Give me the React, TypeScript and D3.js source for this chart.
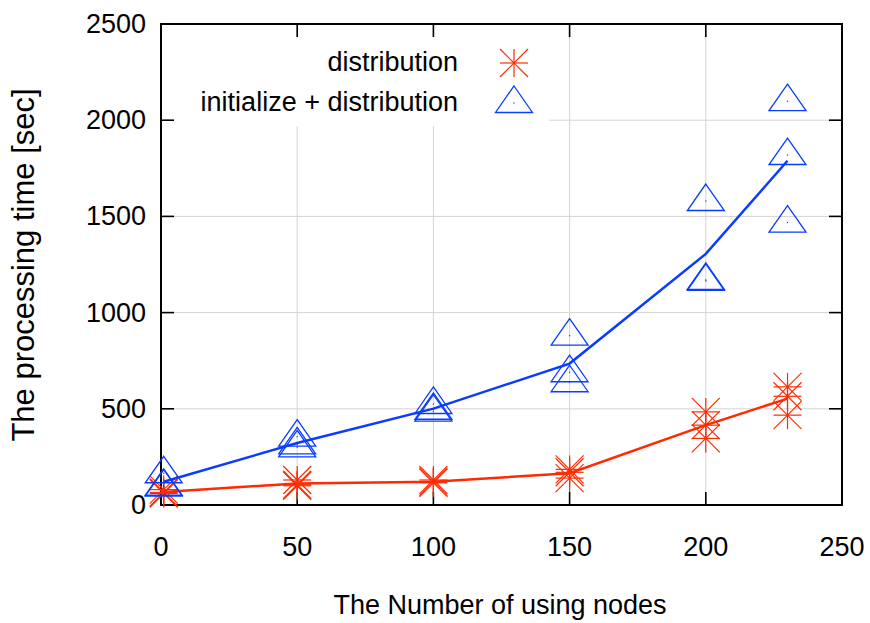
import * as d3 from "d3";

// x positions (number of nodes)
const nodes = [1, 50, 100, 150, 200, 230];

// "distribution" runs (red asterisks) and line through the averages
const distRuns = [
  [80, 65, 60],
  [130, 105, 100],
  [130, 120, 115],
  [185, 170, 140],
  [484, 415, 346],
  [614, 565, 467],
];
const distAvg = [68, 112, 121, 165, 415, 553];

// "initialize + distribution" runs (blue triangles) and averages
const initRuns = [
  [165, 100, 95],
  [355, 315, 300],
  [525, 495, 485],
  [880, 690, 638],
  [1580, 1170, 1165],
  [2099, 1819, 1468],
];
const initAvg = [121, 322, 501, 735, 1305, 1789];

const xTicks = [0, 50, 100, 150, 200, 250];
const yTicks = [0, 500, 1000, 1500, 2000, 2500];

const W = 870;
const H = 623;
const margin = { top: 24, right: 28, bottom: 118, left: 161 };
const RED = "#ff2a00";
const BLUE = "#0a3cff";
const FONT = "'Liberation Sans', Arial, Helvetica, sans-serif";

function Asterisk({ x, y, r = 14 }: { x: number; y: number; r?: number }) {
  return (
    <g stroke={RED} strokeWidth={1.2} fill="none">
      <line x1={x - r} y1={y} x2={x + r} y2={y} />
      <line x1={x} y1={y - r} x2={x} y2={y + r} />
      <line x1={x - r} y1={y - r} x2={x + r} y2={y + r} />
      <line x1={x - r} y1={y + r} x2={x + r} y2={y - r} />
    </g>
  );
}

function Triangle({ x, y }: { x: number; y: number }) {
  const pts = [
    [x, y - 17],
    [x + 18.5, y + 9.5],
    [x - 18.5, y + 9.5],
  ];
  return (
    <g>
      <polygon
        points={pts.map((p) => p.join(",")).join(" ")}
        fill="none"
        stroke={BLUE}
        strokeWidth={1.3}
      />
      <rect x={x - 0.6} y={y - 0.6} width={1.2} height={1.2} fill={BLUE} />
    </g>
  );
}

export default function App() {
  const x = d3
    .scaleLinear()
    .domain([0, 250])
    .range([margin.left, W - margin.right]);
  const y = d3
    .scaleLinear()
    .domain([0, 2500])
    .range([H - margin.bottom, margin.top]);

  const [x0, x1] = x.range();
  const [y0, y1] = y.range();
  const tick = 13;

  const line = d3
    .line<number>()
    .x((_, i) => x(nodes[i]))
    .y((d) => y(d));

  return (
    <svg
      width={W}
      height={H}
      style={{ position: "absolute", left: 0, top: 0, background: "#fff" }}
      fontFamily={FONT}
    >
      <rect width={W} height={H} fill="#fff" />

      {/* grid */}
      <g stroke="#d4d4d4" strokeWidth={1}>
        {xTicks.slice(1, -1).map((t) => (
          <line key={"gx" + t} x1={x(t)} x2={x(t)} y1={y0} y2={y1} />
        ))}
        {yTicks.slice(1, -1).map((t) => (
          <line key={"gy" + t} x1={x0} x2={x1} y1={y(t)} y2={y(t)} />
        ))}
      </g>

      {/* legend background */}
      <rect x={x0 + 1} y={37} width={387} height={89} fill="#fff" />

      {/* frame and ticks */}
      <g stroke="#000" strokeWidth={1.6}>
        {xTicks.map((t) => (
          <g key={"tx" + t}>
            <line x1={x(t)} x2={x(t)} y1={y0} y2={y0 - tick} />
            <line x1={x(t)} x2={x(t)} y1={y1} y2={y1 + tick} />
          </g>
        ))}
        {yTicks.map((t) => (
          <g key={"ty" + t}>
            <line x1={x0} x2={x0 + tick} y1={y(t)} y2={y(t)} />
            <line x1={x1} x2={x1 - tick} y1={y(t)} y2={y(t)} />
          </g>
        ))}
        <rect
          x={x0}
          y={y1}
          width={x1 - x0}
          height={y0 - y1}
          fill="none"
          strokeWidth={2}
        />
      </g>

      {/* tick labels */}
      <g fontSize={27} fill="#000">
        {yTicks.map((t) => (
          <text
            key={"ly" + t}
            x={x0 - 15}
            y={y(t)}
            textAnchor="end"
            dominantBaseline="central"
          >
            {t}
          </text>
        ))}
        {xTicks.map((t) => (
          <text key={"lx" + t} x={x(t)} y={556} textAnchor="middle">
            {t}
          </text>
        ))}
      </g>

      {/* axis titles */}
      <text x={500} y={614} fontSize={27} textAnchor="middle">
        The Number of using nodes
      </text>
      <text
        transform={`translate(34,265) rotate(-90)`}
        fontSize={31}
        textAnchor="middle"
      >
        The processing time [sec]
      </text>

      {/* data */}
      <path d={line(distAvg) ?? ""} fill="none" stroke={RED} strokeWidth={2.5} />
      {distRuns.map((runs, i) =>
        runs.map((v, j) => (
          <Asterisk key={`d${i}-${j}`} x={x(nodes[i])} y={y(v)} />
        ))
      )}
      <path d={line(initAvg) ?? ""} fill="none" stroke={BLUE} strokeWidth={2.5} />
      {initRuns.map((runs, i) =>
        runs.map((v, j) => (
          <Triangle key={`i${i}-${j}`} x={x(nodes[i])} y={y(v)} />
        ))
      )}

      {/* legend */}
      <g fontSize={27}>
        <text x={458} y={62} textAnchor="end" dominantBaseline="central">
          distribution
        </text>
        <Asterisk x={514} y={63} />
        <text x={458} y={102} textAnchor="end" dominantBaseline="central">
          initialize + distribution
        </text>
        <Triangle x={514} y={103} />
      </g>
    </svg>
  );
}
